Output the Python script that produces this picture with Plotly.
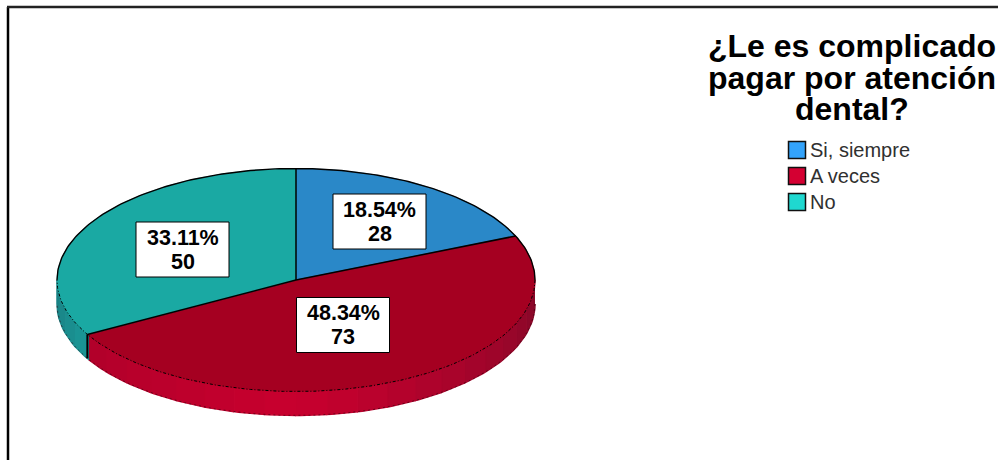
import math
import plotly.graph_objects as go

categories = ["Si, siempre", "A veces", "No"]
values = [28, 73, 50]
top_colors = ["#2a88c8", "#a50021", "#1aa9a3"]
legend_colors = ["#33a3fb", "#d40032", "#1fd8d0"]
title_lines = ["¿Le es complicado", "pagar por atención", "dental?"]

CX, CY, RX, RY, DEPTH = 296, 280, 239, 111.5, 24
FONT = "Liberation Sans, Arial, sans-serif"
label_centers = [(379.5, 221.5), (343, 325), (182.5, 249.5)]
legend_rows = [150, 176, 202]
title_rows = [46, 78, 109]


def pt(t, dy=0):
    r = math.radians(t)
    return CX + RX * math.sin(r), CY - RY * math.cos(r) + dy


def arc(a, b, dy=0, step=1.0):
    n = max(2, int(abs(b - a) / step) + 1)
    pts = [pt(a + (b - a) * i / (n - 1), dy) for i in range(n)]
    return [p[0] for p in pts], [p[1] for p in pts]


def mix(c1, c2, f):
    return "rgb(%d,%d,%d)" % tuple(round(c1[i] + (c2[i] - c1[i]) * f) for i in range(3))


total = sum(values)
angles = [0]
for v in values:
    angles.append(angles[-1] + v / total * 360)

fig = go.Figure()


def add_poly(xs, ys, color, w=1.0):
    fig.add_trace(go.Scatter(x=xs, y=ys, mode="lines", fill="toself", fillcolor=color,
                             line=dict(color=color, width=w), hoverinfo="skip", showlegend=False))


def add_line(xs, ys, width=1.4, dash="solid", color="#000000"):
    fig.add_trace(go.Scatter(x=xs, y=ys, mode="lines", line=dict(color=color, width=width, dash=dash),
                             hoverinfo="skip", showlegend=False))


# side wall, in shaded bands
band = 7.5
t = 90.0
while t < 270:
    e = min(t + band, 270)
    x1, y1 = arc(t, e)
    x2, y2 = arc(e, t, DEPTH)
    m = (t + e) / 2
    if m < angles[2]:
        if m < 180:
            col = mix((132, 8, 40), (200, 0, 46), (m - 90) / 90)
        else:
            col = mix((200, 0, 46), (176, 0, 42), (m - 180) / (angles[2] - 180))
    else:
        col = mix((26, 150, 150), (26, 128, 130), (m - angles[2]) / (270 - angles[2]))
    add_poly(x1 + x2, y1 + y2, col, 1.5)
    t = e

# top face
for i in range(3):
    xs, ys = arc(angles[i], angles[i + 1])
    add_poly([CX] + xs + [CX], [CY] + ys + [CY], top_colors[i], 0.6)

# outlines
xs, ys = arc(-90, 90)
add_line(xs, ys, 1.4)
xs, ys = arc(90, 270)
add_line(xs, ys, 1, "3px,2px,1px,2px")
xs, ys = arc(90, 270, DEPTH)
add_line(xs, ys, 0.6, "2px,3px", "#30000c")
for a in angles[:3]:
    x, y = pt(a)
    add_line([CX, x], [CY, y], 1.5)
x, y = pt(angles[2])
add_line([x, x], [y, y + DEPTH], 2)

# legend swatches
for name, color, row in zip(categories, legend_colors, legend_rows):
    fig.add_trace(go.Scatter(x=[797], y=[row], mode="markers", name=name,
                             marker=dict(symbol="square", size=17, color=color,
                                         line=dict(color="#101010", width=1.5)),
                             hoverinfo="skip", showlegend=False))

annotations = []
shapes = [
    dict(type="line", xref="x", yref="y", x0=8, x1=8, y0=7, y1=460, line=dict(color="#000000", width=2.5)),
    dict(type="line", xref="x", yref="y", x0=7, x1=998, y0=7, y1=7, line=dict(color="#222222", width=2.5)),
]
for v, (lx, ly) in zip(values, label_centers):
    shapes.append(dict(type="rect", xref="x", yref="y", x0=lx - 46.5, x1=lx + 46.5, y0=ly - 27.5, y1=ly + 27.5,
                       fillcolor="#ffffff", line=dict(color="#000000", width=1), layer="above"))
    for text, dy in ((f"{v / total * 100:.2f}%", -12), (str(v), 12)):
        annotations.append(dict(x=lx, y=ly + dy, xref="x", yref="y", showarrow=False, text=text,
                                font=dict(family=FONT, size=21.5, color="#000000", weight="bold")))
for line, row in zip(title_lines, title_rows):
    annotations.append(dict(x=851.5, y=row, xref="x", yref="y", showarrow=False, text=line,
                            font=dict(family=FONT, size=32, color="#000000", weight="bold")))
for name, row in zip(categories, legend_rows):
    annotations.append(dict(x=808, y=row, xref="x", yref="y", showarrow=False, text=name,
                            xanchor="left", font=dict(family=FONT, size=20, color="#303030")))

fig.update_layout(
    width=998, height=460, margin=dict(l=0, r=0, t=0, b=0),
    paper_bgcolor="#ffffff", plot_bgcolor="#ffffff", showlegend=False,
    xaxis=dict(range=[0, 998], visible=False, fixedrange=True),
    yaxis=dict(range=[460, 0], visible=False, fixedrange=True),
    annotations=annotations, shapes=shapes,
)
fig.write_html("out.html", config={"displayModeBar": False},
               post_script="document.body.style.margin='0';document.documentElement.style.overflow='hidden';")
